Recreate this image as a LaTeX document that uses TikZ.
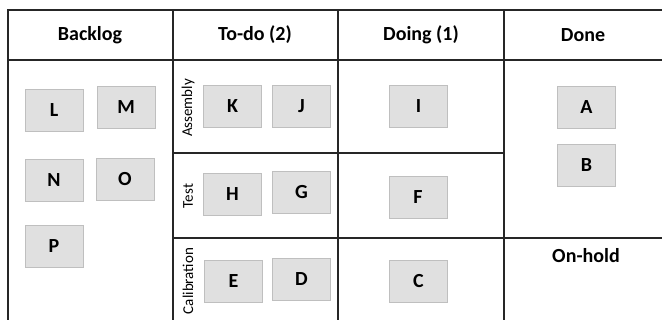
\documentclass[tikz,border=0pt]{standalone}
\usepackage{fontspec}
\setmainfont{Carlito}
\begin{document}
\begin{tikzpicture}[x=1pt,y=-1pt,
  grid/.style={draw=black!85,line width=1.5pt},
  card/.style={draw=black!25,fill=black!12,line width=0.8pt,minimum width=58pt,minimum height=42pt,inner sep=0pt,font=\fontsize{20}{20}\selectfont\bfseries},
  head/.style={font=\fontsize{20}{20}\selectfont\bfseries,inner sep=0pt},
  lane/.style={rotate=90,font=\fontsize{15}{15}\selectfont,inner sep=0pt}]
\useasboundingbox (0,0) rectangle (662,320);
% grid
\draw[grid] (662,10) -- (8,10) -- (8,320);
\draw[grid] (8,60) -- (662,60);
\draw[grid] (173,10) -- (173,320);
\draw[grid] (338,10) -- (338,320);
\draw[grid] (504,10) -- (504,320);
\draw[grid] (173,153) -- (504,153);
\draw[grid] (173,238) -- (662,238);
% headers
\node[head] (hb) at (90,35) {Backlog};
\node[head] (ht) at (255,35) {To-do (2)};
\node[head] (hd) at (421,35) {Doing (1)};
\node[head] (hn) at (583,35) {Done};
\node[head] (oh) at (586,256) {On-hold};
% lanes
\node[lane] (la) at (188,108) {Assembly};
\node[lane] (lt) at (188,196) {Test};
\node[lane] (lc) at (188,281) {Calibration};
% cards
\node[card] (L) at (54,110) {L};
\node[card] (M) at (126,107) {M};
\node[card] (N) at (54,180) {N};
\node[card] (O) at (125,179) {O};
\node[card] (P) at (54,246) {P};
\node[card] (K) at (232.5,106) {K};
\node[card] (J) at (301.5,106.5) {J};
\node[card] (H) at (232.5,194.5) {H};
\node[card] (G) at (301.5,192.5) {G};
\node[card] (E) at (233.5,281) {E};
\node[card] (D) at (301.5,279.5) {D};
\node[card] (I) at (418.5,106) {I};
\node[card] (F) at (418,197) {F};
\node[card] (C) at (418.5,281) {C};
\node[card] (A) at (586.5,107) {A};
\node[card] (B) at (586.5,165) {B};
\end{tikzpicture}
\end{document}
